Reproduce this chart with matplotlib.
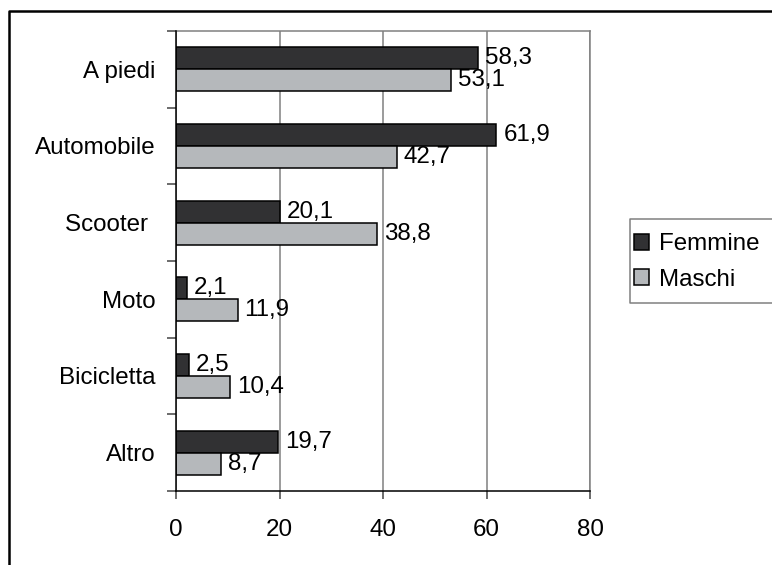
import numpy as np
import matplotlib
matplotlib.use("Agg")
import matplotlib.pyplot as plt
from matplotlib.lines import Line2D
from matplotlib.patches import Patch

plt.rcParams['font.family'] = ['Liberation Sans', 'DejaVu Sans']

categories = ["A piedi", "Automobile", "Scooter ", "Moto", "Bicicletta", "Altro"]
femmine = [58.3, 61.9, 20.1, 2.1, 2.5, 19.7]
maschi = [53.1, 42.7, 38.8, 11.9, 10.4, 8.7]
series_names = ["Femmine", "Maschi"]
x_ticks = [0, 20, 40, 60, 80]

FS = 17.4
dark = "#313133"
light = "#b5b8bb"
grid_gray = "#808080"

fig = plt.figure(figsize=(7.72, 5.65), dpi=100)
W, H = 772, 565
ax = fig.add_axes([176 / W, 1 - 491 / H, (590 - 176) / W, (491 - 31) / H])

y = np.arange(len(categories))
h = 0.287
b1 = ax.barh(y - h / 2, femmine, height=h, color=dark, edgecolor="black",
             linewidth=1.1, label=series_names[0], zorder=3)
b2 = ax.barh(y + h / 2, maschi, height=h, color=light, edgecolor="black",
             linewidth=1.1, label=series_names[1], zorder=3)

fmt = lambda v: f"{v:.1f}".replace(".", ",")
ax.bar_label(b1, labels=[fmt(v) for v in femmine], padding=5, fontsize=FS)
ax.bar_label(b2, labels=[fmt(v) for v in maschi], padding=5, fontsize=FS)

ax.set_xlim(0, 80)
ax.set_ylim(len(categories) - 0.5, -0.5)

ax.set_xticks(x_ticks)
ax.set_xticklabels([str(t) for t in x_ticks], fontsize=FS)
ax.tick_params(axis="x", length=6, width=1.1, color="#444444", pad=14)

ax.set_yticks(y)
ax.set_yticklabels(categories, fontsize=FS)
ax.tick_params(axis="y", which="major", length=0, pad=15)
ax.set_yticks(np.arange(len(categories) + 1) - 0.5, minor=True)
ax.tick_params(axis="y", which="minor", length=6.5, width=1.1, color="#444444")

ax.xaxis.grid(True, color=grid_gray, linewidth=1.1, zorder=0)
ax.set_axisbelow(True)

for s in ("left", "bottom"):
    ax.spines[s].set_color("black")
    ax.spines[s].set_linewidth(1.1)
    ax.spines[s].set_zorder(4)
for s in ("top", "right"):
    ax.spines[s].set_color(grid_gray)
    ax.spines[s].set_linewidth(1.1)

handles = [Patch(facecolor=dark, edgecolor="black", linewidth=1.1),
           Patch(facecolor=light, edgecolor="black", linewidth=1.1)]
leg = fig.legend(handles, series_names, loc="center left",
                 bbox_to_anchor=(634 / W, 1 - 262 / H), fontsize=FS,
                 frameon=False, handlelength=0.62,
                 handleheight=0.62, handletextpad=0.4, labelspacing=0.55,
                 borderpad=0.0, borderaxespad=0)

# legend box (open on the right, runs off the edge)
lx0, ly0, ly1 = 630 / W, 1 - 303 / H, 1 - 219 / H
fig.add_artist(Line2D([1.0, lx0, lx0, 1.0], [ly1, ly1, ly0, ly0],
                      transform=fig.transFigure, color=grid_gray,
                      linewidth=1.1))

# outer frame of the chart: left and top edges
fx, fy = 8.5 / W, 1 - 10.5 / H
fig.add_artist(Line2D([fx, fx, 1.0], [0.0, fy, fy],
                      transform=fig.transFigure, color="black",
                      linewidth=1.8))

fig.savefig("out.png", dpi=100)
